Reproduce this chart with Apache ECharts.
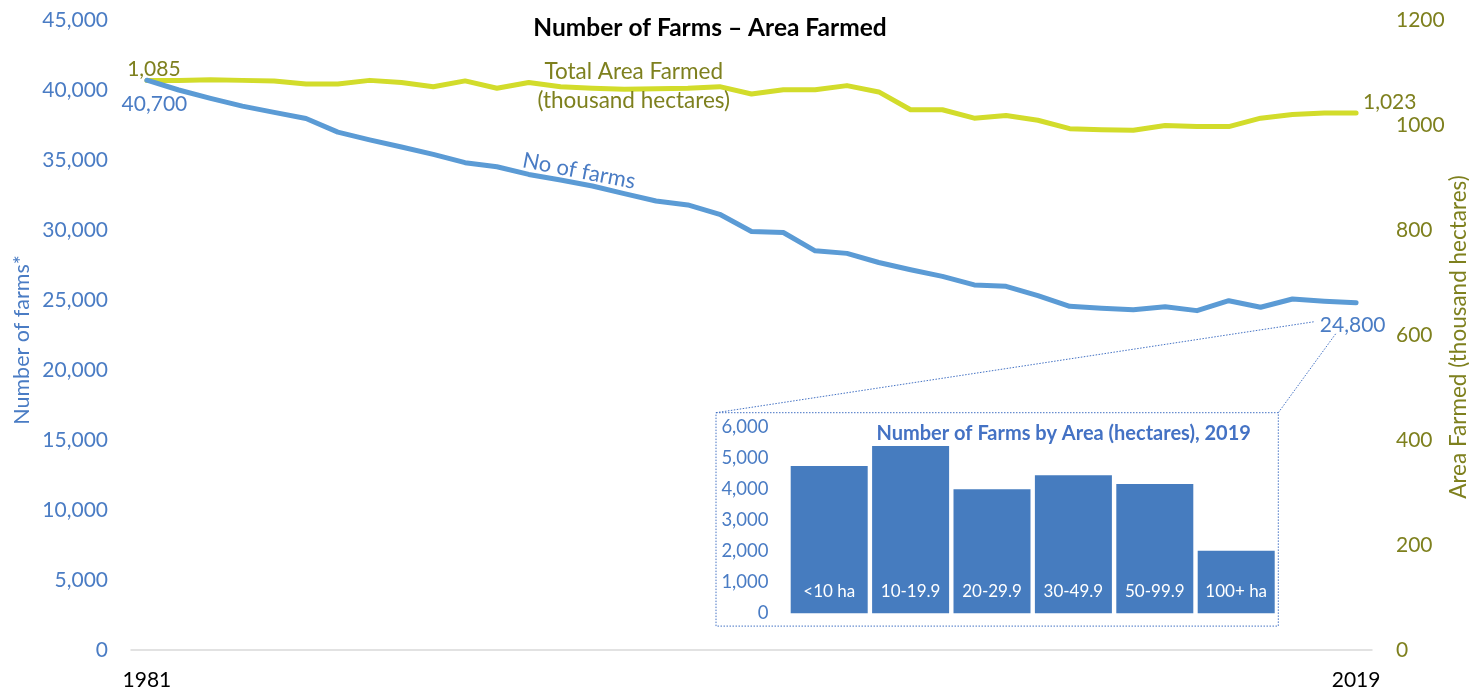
<!DOCTYPE html>
<html><head><meta charset="utf-8">
<script src="https://cdn.jsdelivr.net/npm/echarts@6/dist/echarts.min.js"></script>
<style>html,body{margin:0;padding:0;background:#fff}#c{width:1469px;height:691px}</style>
</head><body><div id="c"></div>
<script>
const years = ['1981','1982','1983','1984','1985','1986','1987','1988','1989','1990',
  '1991','1992','1993','1994','1995','1996','1997','1998','1999','2000',
  '2001','2002','2003','2004','2005','2006','2007','2008','2009','2010',
  '2011','2012','2013','2014','2015','2016','2017','2018','2019'];
const farms = [40700, 40000, 39400, 38850, 38400, 37960, 36990, 36440, 35930, 35400,
  34810, 34520, 33970, 33570, 33140, 32600, 32070, 31790, 31120, 29890,
  29820, 28510, 28330, 27680, 27160, 26690, 26080, 25980, 25310, 24550,
  24410, 24310, 24520, 24240, 24950, 24480, 25070, 24910, 24800];
const areaFarmed = [1085, 1085, 1086, 1085, 1084, 1078, 1078, 1085, 1081, 1073,
  1084, 1070, 1081, 1073, 1070, 1068, 1069, 1070, 1073, 1059,
  1067, 1067, 1075, 1063, 1029, 1029, 1013, 1018, 1009, 993,
  991, 990, 999, 997, 997, 1013, 1020, 1023, 1023];
const sizeCats = ['<10 ha', '10-19.9', '20-29.9', '30-49.9', '50-99.9', '100+ ha'];
const sizeCounts = [4750, 5400, 4000, 4450, 4170, 2020];

const FONT = 'Lato';
const BLUE_TXT = '#4A7CC4';
const OLIVE = '#7E801E';
const fmt = v => Number(v).toLocaleString('en-US');
const INSET = {left: 788.5, top: 427.3, width: 488.4, height: 186};

const chart = echarts.init(document.getElementById('c'), null, {renderer: 'canvas'});
const option = {
  animation: false,
  backgroundColor: '#fff',
  grid: [
    {left: 131, right: 97, top: 20, bottom: 39},
    {left: INSET.left, width: INSET.width, top: INSET.top, height: INSET.height}
  ],
  xAxis: [
    {type: 'category', gridIndex: 0, data: years, boundaryGap: true,
     axisLine: {lineStyle: {color: '#D9D9D9', width: 1.5}},
     axisTick: {show: false},
     axisLabel: {interval: (i) => i === 0 || i === years.length - 1, color: '#000',
       fontSize: 21, fontFamily: FONT, margin: 20}},
    {type: 'category', gridIndex: 1, data: sizeCats,
     axisLine: {show: false}, axisTick: {show: false}, axisLabel: {show: false}}
  ],
  yAxis: [
    {type: 'value', gridIndex: 0, position: 'left', min: 0, max: 45000, interval: 5000,
     splitLine: {show: false}, axisLine: {show: false}, axisTick: {show: false},
     axisLabel: {color: BLUE_TXT, fontSize: 21, fontFamily: FONT, margin: 23, formatter: fmt}},
    {type: 'value', gridIndex: 0, position: 'right', min: 0, max: 1200, interval: 200,
     splitLine: {show: false}, axisLine: {show: false}, axisTick: {show: false},
     axisLabel: {color: OLIVE, fontSize: 21, fontFamily: FONT, margin: 24, formatter: v => String(v)}},
    {type: 'value', gridIndex: 1, min: 0, max: 6000, interval: 1000,
     splitLine: {show: false}, axisLine: {show: false}, axisTick: {show: false},
     axisLabel: {color: BLUE_TXT, fontSize: 18.5, fontFamily: FONT, margin: 20, formatter: fmt}}
  ],
  series: [
    {type: 'bar', xAxisIndex: 1, yAxisIndex: 2, data: sizeCounts, barCategoryGap: '5.4%',
     itemStyle: {color: '#467CBF'},
     label: {show: true, position: 'insideBottom', distance: 13, color: '#fff',
       fontSize: 17, fontFamily: FONT, formatter: p => sizeCats[p.dataIndex]}},
    {type: 'line', xAxisIndex: 0, yAxisIndex: 1, data: areaFarmed, symbol: 'none',
     lineStyle: {color: '#D2DC2B', width: 5, cap: 'round', join: 'round'}},
    {type: 'line', xAxisIndex: 0, yAxisIndex: 0, data: farms, symbol: 'none',
     lineStyle: {color: '#5B9BD5', width: 5, cap: 'round', join: 'round'}}
  ]
};
chart.setOption(option);

const last = years.length - 1;
const pF0 = chart.convertToPixel({xAxisIndex: 0, yAxisIndex: 0}, [years[0], farms[0]]);
const pFN = chart.convertToPixel({xAxisIndex: 0, yAxisIndex: 0}, [years[last], farms[last]]);
const pA0 = chart.convertToPixel({xAxisIndex: 0, yAxisIndex: 1}, [years[0], areaFarmed[0]]);
const pAN = chart.convertToPixel({xAxisIndex: 0, yAxisIndex: 1}, [years[last], areaFarmed[last]]);

function txt(x, y, text, o) {
  o = o || {};
  return {type: 'text', x: x, y: y, rotation: o.rot || 0, z: 10,
    style: {text: text, fill: o.color || '#000', fontSize: o.size || 21,
      fontFamily: FONT, fontWeight: o.weight || 'normal', fontStyle: o.style || 'normal',
      align: 'center', verticalAlign: 'middle'}};
}
const box = {x: INSET.left - 72.5, y: INSET.top - 14.6, w: 562.3, h: 213.4};
const lab = [pFN[0] - 3.4, pFN[1] + 22.7];
const dot = {stroke: '#4472C4', lineWidth: 1, lineDash: [1.5, 1.5], fill: null};

chart.setOption({graphic: [
  txt(710, 28, 'Number of Farms – Area Farmed', {weight: 'bold', size: 24.5}),
  txt(pA0[0] + 7, pA0[1] - 11.5, fmt(areaFarmed[0]), {color: OLIVE}),
  txt(pF0[0] + 7.5, pF0[1] + 24, fmt(farms[0]), {color: BLUE_TXT}),
  txt(pAN[0] + 33.6, pAN[1] - 11, fmt(areaFarmed[last]), {color: OLIVE}),
  txt(lab[0], lab[1], fmt(farms[last]), {color: BLUE_TXT}),
  txt(633.7, 71.7, 'Total Area Farmed', {color: OLIVE, size: 22.5}),
  txt(633.7, 100.7, '(thousand hectares)', {color: OLIVE, size: 22.5}),
  txt(579, 171, 'No of farms', {color: BLUE_TXT, size: 22, rot: -11 * Math.PI / 180}),
  txt(22, 340, 'Number of farms*', {color: BLUE_TXT, size: 21.5, rot: Math.PI / 2}),
  txt(1459, 337, 'Area Farmed (thousand hectares)', {color: OLIVE, size: 22.5, rot: Math.PI / 2}),
  txt(1063.7, 433.3, 'Number of Farms by Area (hectares), 2019', {color: '#4472C4', weight: 'bold', size: 20}),
  {type: 'rect', shape: {x: box.x, y: box.y, width: box.w, height: box.h}, style: dot, z: 5},
  {type: 'line', shape: {x1: box.x, y1: box.y, x2: lab[0] - 39, y2: lab[1] - 3.7}, style: dot, z: 5},
  {type: 'line', shape: {x1: box.x + box.w, y1: box.y, x2: lab[0] - 17, y2: lab[1] + 8.3}, style: dot, z: 5}
]});
</script></body></html>
